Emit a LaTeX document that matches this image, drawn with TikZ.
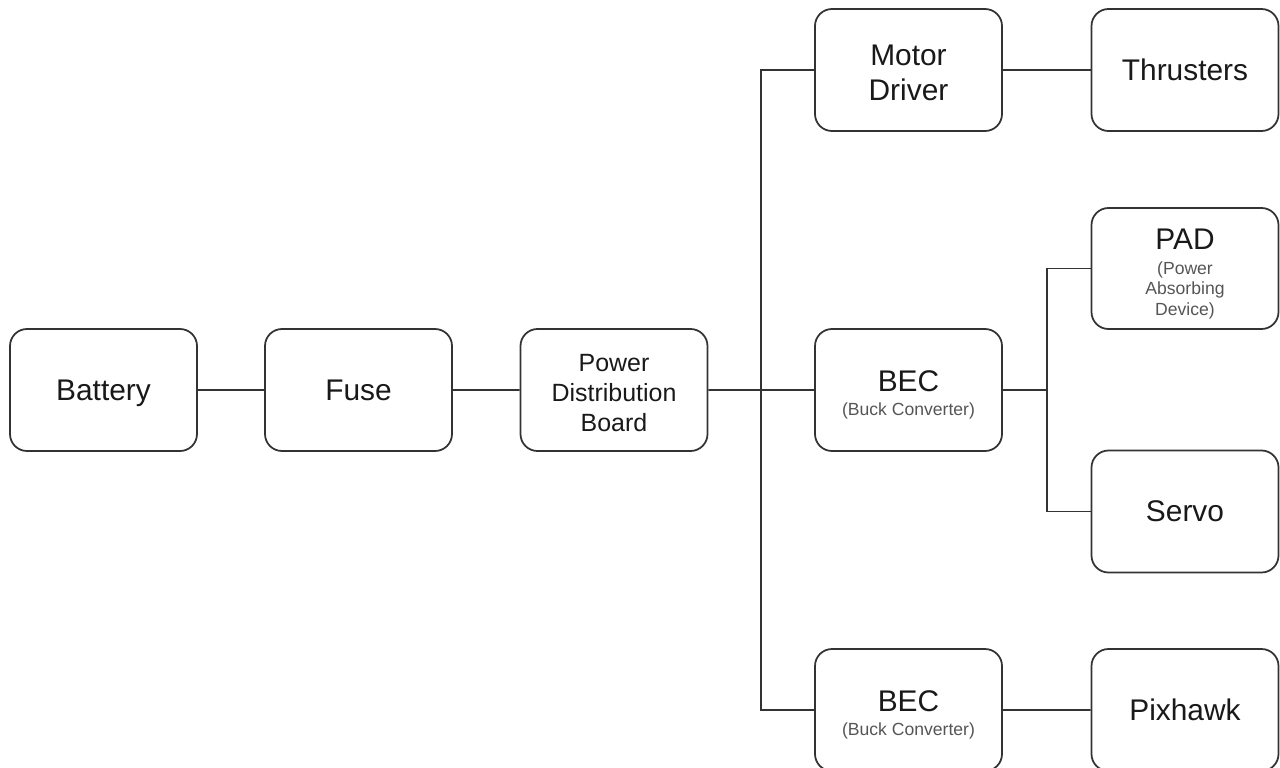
\documentclass[tikz,border=0pt]{standalone}
\usepackage{fontspec}
\setmainfont{Liberation Sans}
\usepackage{tikz}

\definecolor{linegray}{HTML}{333333}
\definecolor{subgray}{HTML}{555555}
\tikzset{
  block/.style={draw=linegray, line width=1pt, rounded corners=0.34cm,
    minimum width=3.74cm, minimum height=2.44cm, align=center,
    inner sep=0pt, font=\fontsize{17}{20}\selectfont, text=black!90},
  wire/.style={draw=linegray, line width=1pt}
}
\newcommand{\subline}[1]{{\fontsize{10}{12}\selectfont\color{subgray}#1}}
\newcommand{\lift}[1]{\rule{0pt}{#1}}

\begin{document}
\begin{tikzpicture}[scale=0.2]
            \useasboundingbox (0,0) rectangle (128,-76.7);
            % main chain
            \node [block, text depth=0pt] (bat) at (10.35,-39) {Battery};
            \node [block] (fuse) at (35.85,-39) {Fuse};
            \node [block, font=\fontsize{14.2}{17}\selectfont] (pdb) at (61.4,-39) {\lift{13pt}Power\\Distribution\\Board};
            % loads
            \node [block] (md) at (90.85,-7) {\lift{14.5pt}Motor\\Driver};
            \node [block] (thr) at (118.5,-7) {Thrusters};
            \node [block] (bec1) at (90.85,-39) {\lift{17.3pt}BEC\\[-6.4pt]\subline{(Buck Converter)}};
            \node [block, minimum height=2.42cm] (pad) at (118.5,-26.85) {\lift{17.9pt}PAD\\[-5.7pt]\subline{(Power}\\[-8.3pt]\subline{Absorbing}\\[-8.3pt]\subline{Device)}};
            \node [block] (servo) at (118.5,-51.15) {Servo};
            \node [block] (bec2) at (90.85,-71) {\lift{17.3pt}BEC\\[-6.4pt]\subline{(Buck Converter)}};
            \node [block] (pix) at (118.5,-71) {Pixhawk};
            \coordinate (trunk) at (76.1,-39);
            \coordinate (fork) at (104.7,-39);
            % wires
            \draw [wire] (bat) -- (fuse);
            \draw [wire] (fuse) -- (pdb);
            \draw [wire] (pdb) -- (bec1);
            \draw [wire] (md.west) -| (trunk) |- (bec2.west);
            \draw [wire] (md) -- (thr);
            \draw [wire] (bec1.east) -- (fork);
            \draw [wire] (pad.west) -| (fork) |- (servo.west);
            \draw [wire] (bec2) -- (pix);
        \end{tikzpicture}
\end{document}
